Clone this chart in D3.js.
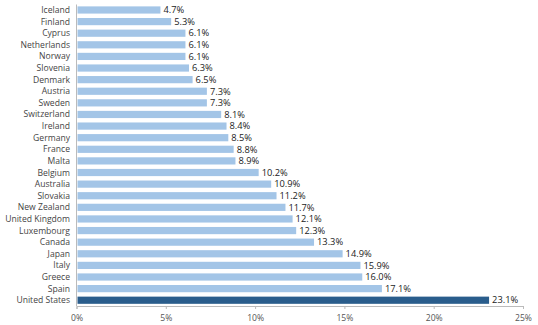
<!DOCTYPE html>
<html><head><meta charset="utf-8">
<script src="https://cdn.jsdelivr.net/npm/d3@7"></script>
<style>body{margin:0;background:#fff}svg{display:block}</style>
</head><body><svg id="c" width="538" height="325"></svg>
<script>
const countries = ["Iceland","Finland","Cyprus","Netherlands","Norway","Slovenia","Denmark","Austria","Sweden","Switzerland","Ireland","Germany","France","Malta","Belgium","Australia","Slovakia","New Zealand","United Kingdom","Luxembourg","Canada","Japan","Italy","Greece","Spain","United States"];
const values = [4.7,5.3,6.1,6.1,6.1,6.3,6.5,7.3,7.3,8.1,8.4,8.5,8.8,8.9,10.2,10.9,11.2,11.7,12.1,12.3,13.3,14.9,15.9,16.0,17.1,23.1];
const ticks = [0,5,10,15,20,25];
const highlight = "United States";

const svg = d3.select("#c");
const font = "'Open Sans', 'Noto Sans', sans-serif";
const x = d3.scaleLinear().domain([0,25]).range([76.5,523]);
const y = d3.scaleBand().domain(countries).range([2.9,307.3]).paddingInner(0.38).paddingOuter(0.3);

// bars
svg.selectAll("rect.bar").data(countries).enter().append("rect")
  .attr("x", x(0)+1).attr("y", d=>y(d)).attr("height", y.bandwidth())
  .attr("width", (d,i)=>x(values[i])-x(0)-1)
  .attr("fill", d=> d===highlight ? "#2a5d8c" : "#a3c5e7");

// value labels
svg.selectAll("text.val").data(countries).enter().append("text")
  .attr("x",(d,i)=>x(values[i])+3).attr("y", d=>y(d)+y.bandwidth()/2)
  .attr("dy","0.35em").attr("font-family",font).attr("font-size",9.3).attr("fill","#222")
  .text((d,i)=>values[i].toFixed(1)+"%");

// category labels
svg.selectAll("text.cat").data(countries).enter().append("text")
  .attr("x",70).attr("y", d=>y(d)+y.bandwidth()/2)
  .attr("dy","0.35em").attr("text-anchor","end").attr("font-family",font).attr("font-size",8.6).attr("fill","#444")
  .text(d=>d);

// y axis line
svg.append("line").attr("x1",x(0)).attr("x2",x(0)).attr("y1",4.5).attr("y2",306).attr("stroke","#bbb");

// x axis
const xa = svg.append("g").attr("transform","translate(0,306)")
  .call(d3.axisBottom(x).tickValues(ticks).tickSize(3).tickFormat(d=>d+"%"));
xa.select(".domain").attr("stroke","#bbb");
xa.selectAll(".tick line").attr("stroke","#bbb");
xa.selectAll("text").attr("font-family",font).attr("font-size",8.6).attr("fill","#555").attr("dy","1.05em");
</script></body></html>
